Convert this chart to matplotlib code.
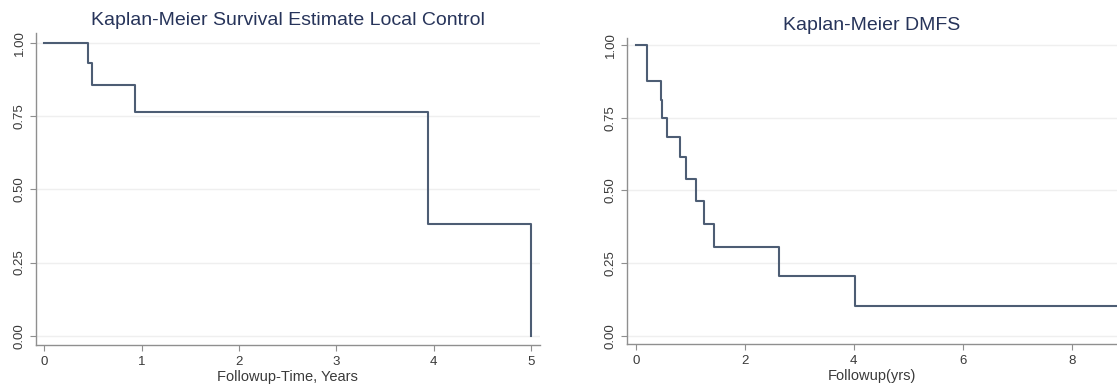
"""
Kaplan-Meier curves: local control and DMFS (Stata-like look)
"""

### Import modules
import numpy as np
import matplotlib
matplotlib.use('Agg')
import matplotlib.pyplot as plt

### Data
lc_time = [0.0, 0.45, 0.49, 0.93, 3.94, 5.0]
lc_surv = [1.0, 0.929, 0.857, 0.762, 0.381, 0.0]

dmfs_time = [0.0, 0.21, 0.46, 0.49, 0.58, 0.81, 0.92, 1.10, 1.26, 1.44, 2.63, 4.02, 10.0]
dmfs_surv = [1.0, 0.875, 0.81, 0.75, 0.683, 0.614, 0.54, 0.462, 0.385, 0.306, 0.204, 0.102, 0.102]

yticks = [0.0, 0.25, 0.5, 0.75, 1.0]
ytick_labels = ['0.00', '0.25', '0.50', '0.75', '1.00']

### Style
plt.rc('font', family='Liberation Sans')
linecol = '#4d5d74'
titlecol = '#27345a'
spinecol = '#8f8f8f'
textcol = '#3a3a3a'
gridcol = '#efefef'

W, H = 1117, 385
fig = plt.figure(figsize=(W/100., H/100.), dpi=100)

def px_axes(x0, x1, ytop, ybot):
    return fig.add_axes([x0/W, (H-ybot)/H, (x1-x0)/W, (ybot-ytop)/H])

def style(ax, title, xlabel, xticks):
    for s in ['top', 'right']:
        ax.spines[s].set_visible(False)
    for s in ['left', 'bottom']:
        ax.spines[s].set_color(spinecol)
        ax.spines[s].set_linewidth(1.0)
    ax.set_yticks(yticks)
    ax.set_yticklabels(ytick_labels, rotation=90, va='center')
    ax.set_xticks(xticks)
    ax.tick_params(colors=spinecol, labelcolor=textcol, labelsize=9.5, length=4, width=0.8)
    ax.tick_params(axis='x', pad=4)
    ax.tick_params(axis='y', pad=3)
    ax.grid(axis='y', color=gridcol, linewidth=1.0)
    ax.set_axisbelow(True)
    ax.set_title(title, color=titlecol, fontsize=14, pad=6)
    ax.set_xlabel(xlabel, color=textcol, fontsize=10.5, labelpad=1.5)

### Local control
ax1 = px_axes(35.7, 540, 33, 345)
ax1.step(lc_time, lc_surv, where='post', color=linecol, lw=1.5)
ax1.set_xlim(-0.088, 5.09)
ax1.set_ylim(-0.031, 1.033)
style(ax1, 'Kaplan-Meier Survival Estimate Local Control', 'Followup-Time, Years', [0, 1, 2, 3, 4, 5])

### DMFS
ax2 = px_axes(626.7, 1117, 38, 343.5)
ax2.step(dmfs_time, dmfs_surv, where='post', color=linecol, lw=1.5)
ax2.set_xlim(-0.165, 8.83)
ax2.set_ylim(-0.027, 1.024)
style(ax2, 'Kaplan-Meier DMFS', 'Followup(yrs)', [0, 2, 4, 6, 8])

plt.savefig('out.png', dpi=100)
